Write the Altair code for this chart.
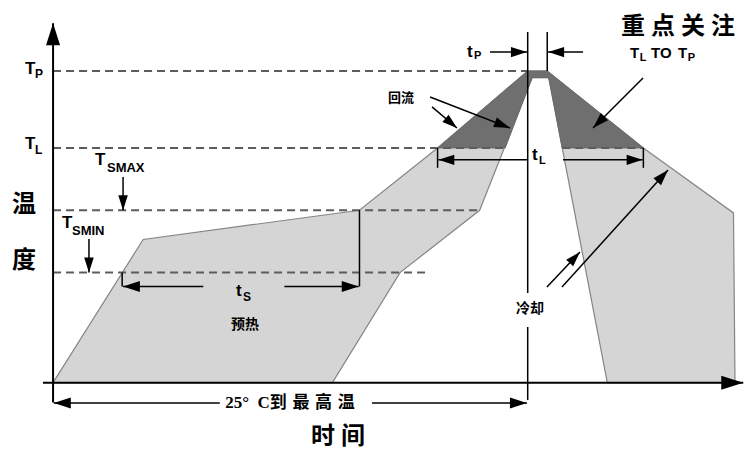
import math
import altair as alt
import pandas as pd

# ---------------- data (time in s, temperature in degC, schematic) ----------------
T_BASE, T_SMIN, T_SMAX, T_L, T_P = 25, 108, 155, 202, 260

# light-grey profile envelope: outer edge, then inner edge back to the start
env_time = [0, 60, 204, 256, 316, 329, 393, 453, 454, 369, 330, 319, 284, 231, 186]
env_temp = [25, 133, 155, 202, 260, 260, 202, 153, 25, 25, 255, 255, 155, 108, 25]

# dark reflow zone (above T_L)
dark_time = [256, 316, 329, 393, 339, 330, 319, 301]
dark_temp = [202, 260, 260, 202, 202, 255, 255, 202]

# dashed level lines: (start time, end time, level)
level_start = [0, 0, 339, 0, 0]
level_end = [316, 301, 393, 284, 251]
level_temp = [T_P, T_L, T_L, T_SMAX, T_SMIN]

# ---------------- scales ----------------
W, H = 736, 441
X_DOM = [-30, 460]
Y_DOM = [-25, 307.5]
KX = W / (X_DOM[1] - X_DOM[0])
KY = H / (Y_DOM[1] - Y_DOM[0])
xs = alt.Scale(domain=X_DOM, nice=False, zero=False)
ys = alt.Scale(domain=Y_DOM, nice=False, zero=False)
X = alt.X("t:Q", scale=xs, axis=None)
Y = alt.Y("T:Q", scale=ys, axis=None)

ARROW = "M0,0L-1,-0.32L-1,0.32Z"


def poly_df(ts, Ts):
    return pd.DataFrame({"t": ts, "T": Ts, "i": list(range(len(ts)))})


envelope = alt.Chart(poly_df(env_time, env_temp)).mark_line(
    fill="#d5d5d5", stroke="#858585", strokeWidth=1.2, interpolate="linear-closed"
).encode(X, Y, order="i:Q")

dark = alt.Chart(poly_df(dark_time, dark_temp)).mark_line(
    fill="#6f6f6f", stroke="#6a6a6a", strokeWidth=1, interpolate="linear-closed"
).encode(X, Y, order="i:Q")

levels = alt.Chart(pd.DataFrame({"t": level_start, "t2": level_end, "T": level_temp})).mark_rule(
    stroke="#5c5c5c", strokeWidth=2, strokeDash=[8, 5]
).encode(X, x2="t2:Q", y=Y)

# arrows: shaft start -> tip, head length (px), line width
arrows = [
    (0, 10, 0, 296, 22, 2),            # temperature axis
    (-6.7, T_BASE, 459.5, T_BASE, 22, 2),  # time axis
    (111, 9.7, 0.5, 9.7, 17, 1.5),     # 25C to peak, left
    (212.3, 9.7, 315.5, 9.7, 17, 1.5),  # 25C to peak, right
    (290.9, 274.3, 315.5, 274.3, 16, 1.5),  # tP
    (352.8, 274.3, 329.6, 274.3, 16, 1.5),
    (316, 193, 256.5, 193, 16, 1.5),   # tL
    (339.5, 193, 392.5, 193, 16, 1.5),
    (100, 97.5, 46.5, 97.5, 17, 1.5),  # tS
    (154, 97.5, 203.5, 97.5, 17, 1.5),
    (46.6, 180.1, 46.6, T_SMAX, 15, 1.5),  # TSMAX
    (23.9, 133.3, 23.9, T_SMIN, 15, 1.5),  # TSMIN
    (251, 240.4, 304.2, 217, 16, 1.5),  # reflow
    (252.3, 232.9, 268.9, 217, 15, 1.5),
    (392.8, 254.7, 359.5, 217, 16, 1.5),  # TL to TP
    (338.8, 97.1, 409.4, 185.4, 16, 1.5),  # cooling
    (328.8, 97.1, 350.8, 123.5, 15, 1.5),
]

segments = [
    (316, 289.4, 316, 92.6, 1.5),
    (316, 67, 316, 12, 1.5),
    (329, 289.4, 329, T_P, 1.5),
    (256, T_L, 256, 187, 1.5),
    (393, T_L, 393, 187, 1.5),
    (46, T_SMIN, 46, 97.5, 1.5),
    (204, T_SMAX, 204, 97.5, 1.5),
]

seg_rows = [dict(t=a, T=b, t2=c, T2=d, w=w) for a, b, c, d, w in segments]
head_rows = []
for a, b, c, d, L, w in arrows:
    seg_rows.append(dict(t=a, T=b, t2=c, T2=d, w=w))
    ang = math.degrees(math.atan2(-(d - b) * KY, (c - a) * KX)) % 360
    head_rows.append(dict(t=c, T=d, ang=ang, sz=(2 * L) ** 2))

lines = alt.Chart(pd.DataFrame(seg_rows)).mark_rule(color="black").encode(
    X, Y, x2="t2:Q", y2="T2:Q", strokeWidth=alt.StrokeWidth("w:Q", scale=None)
)

heads = alt.Chart(pd.DataFrame(head_rows)).mark_point(
    shape=ARROW, filled=True, color="black", opacity=1, strokeWidth=0
).encode(
    X, Y,
    angle=alt.Angle("ang:Q", scale=None),
    size=alt.Size("sz:Q", scale=None),
)

LATIN = "Liberation Sans"
CJK = "Liberation Serif, Noto Sans CJK SC"


def texts(rows, font, align="left", weight="bold"):
    df = pd.DataFrame(rows, columns=["t", "T", "label", "fs"])
    return alt.Chart(df).mark_text(
        font=font, fontWeight=weight, align=align, baseline="middle", color="black"
    ).encode(X, Y, text="label:N", size=alt.Size("fs:Q", scale=None))


latin_rows = [
    (-18.7, 261.5, "T", 17), (-12.0, 258.0, "P", 12),
    (-18.7, 205.0, "T", 17), (-12.0, 200.8, "L", 12),
    (27.9, 192.9, "T", 17), (35.9, 186.9, "SMAX", 13),
    (5.95, 145.4, "T", 17), (12.6, 139.4, "SMIN", 13),
    (384.1, 273.6, "T", 15), (390.6, 269.8, "L", 11),
    (398.1, 273.6, "TO", 15), (416.1, 273.6, "T", 15), (422.6, 269.8, "P", 11),
    (275.6, 274.3, "t", 17), (280.2, 271.0, "P", 11),
    (318.9, 196.7, "t", 17), (323.5, 192.1, "L", 11),
    (121.8, 94.1, "t", 17), (126.5, 89.6, "S", 12),
]

cjk_rows = [
    (-19.3, 159, "温", 24),
    (-19.3, 116.7, "度", 24),
    (189.7, -16, "时 间", 24),
    (416, 293.2, "重 点 关 注", 24),
    (231.6, 239.6, "回流", 13),
    (127.8, 68.5, "预热", 14),
    (317.5, 80.6, "冷却", 14),
    (157.7, 9.7, "25°\u2002C到\u2004最\u2004高\u2004温", 17),
]

chart = alt.layer(
    envelope, dark, levels, lines, heads,
    texts(latin_rows, LATIN, align="left"),
    texts(cjk_rows, CJK, align="center"),
).properties(
    width=W, height=H, padding=0, autosize=alt.AutoSizeParams(type="none")
).configure_view(stroke=None)

chart.save("out.html", embed_options={"renderer": "svg", "actions": False})
